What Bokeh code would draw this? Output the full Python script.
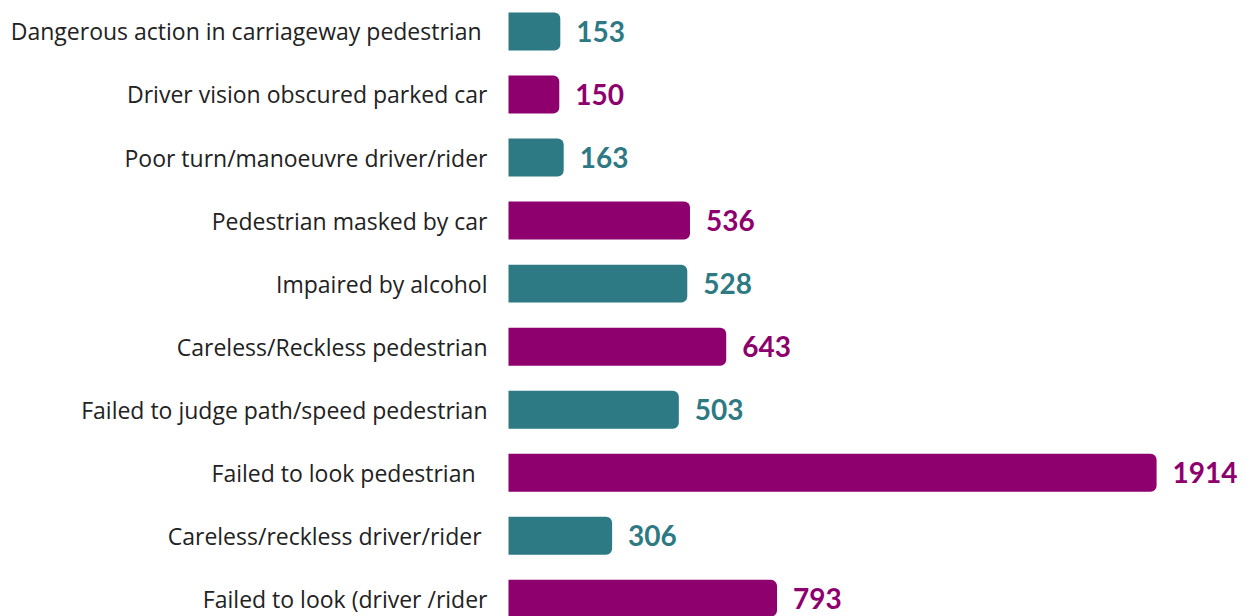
from bokeh.plotting import figure
from bokeh.models import ColumnDataSource, Range1d
from bokeh.core.properties import value
from bokeh.embed import file_html
from bokeh.resources import INLINE

categories = [
    "Dangerous action in carriageway pedestrian ",
    "Driver vision obscured parked car",
    "Poor turn/manoeuvre driver/rider",
    "Pedestrian masked by car",
    "Impaired by alcohol",
    "Careless/Reckless pedestrian",
    "Failed to judge path/speed pedestrian",
    "Failed to look pedestrian  ",
    "Careless/reckless driver/rider ",
    "Failed to look (driver /rider",
]
values = [153, 150, 163, 536, 528, 643, 503, 1914, 306, 793]
palette = ["#2d7984", "#8e006e"]

colors = [palette[i % 2] for i in range(len(values))]
pos = list(range(len(values)))
source = ColumnDataSource(dict(
    cat=categories, val=values, y=pos, color=colors,
    label=[str(v) for v in values], zero=[0] * len(values),
))

W, H = 1247, 616
p = figure(width=W, height=H, output_backend="svg", toolbar_location=None,
           x_range=Range1d(-1500.3, 2182.5), y_range=Range1d(9.28, -0.491),
           min_border=0, outline_line_color=None)
p.axis.visible = False
p.grid.visible = False

p.hbar(y="y", left=0, right="val", height=0.602, fill_color="color",
       line_color=None, source=source, border_radius=(0, 6, 6, 0))

p.text(x="zero", y="y", text="cat", source=source, x_offset=-21,
       text_align="right", text_baseline="middle",
       text_font=value("Open Sans"), text_font_size="23px", text_color="#222222")

p.text(x="val", y="y", text="label", source=source, x_offset=16,
       text_align="left", text_baseline="middle",
       text_font=value("Lato"), text_font_size="28px", text_font_style="bold",
       text_color="color")

open("out.html", "w").write(file_html(p, INLINE))
